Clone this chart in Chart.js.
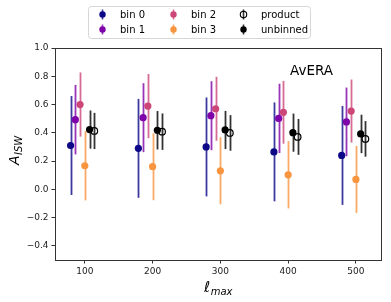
<!DOCTYPE html>
<html>
<head>
<meta charset="utf-8">
<script src="https://cdn.jsdelivr.net/npm/chart.js@4"></script>
<style>
  html, body { margin: 0; padding: 0; background: #fff; }
  #wrap { width: 391px; height: 302px; }
</style>
</head>
<body>
<div id="wrap"><canvas id="isw"></canvas></div>
<script>
// multipole cuts
const lmax = [100, 200, 300, 400, 500];
const yTicks = [-0.4, -0.2, 0.0, 0.2, 0.4, 0.6, 0.8, 1.0];

// A_ISW estimates and 1-sigma errors
const bin0 = [0.31, 0.29, 0.30, 0.265, 0.24];
const err0 = [0.35, 0.35, 0.35, 0.35, 0.35];
const bin1 = [0.493, 0.507, 0.521, 0.502, 0.477];
const err1 = [0.246, 0.244, 0.244, 0.245, 0.243];
const bin2 = [0.60, 0.589, 0.570, 0.545, 0.554];
const err2 = [0.227, 0.227, 0.226, 0.222, 0.223];
const bin3 = [0.167, 0.16, 0.131, 0.103, 0.07];
const err3 = [0.245, 0.237, 0.237, 0.238, 0.237];
const product = [0.413, 0.408, 0.399, 0.371, 0.357];
const errProd = [0.128, 0.129, 0.126, 0.127, 0.126];
const unbinned = [0.423, 0.418, 0.42, 0.401, 0.392];
const errUnb = [0.135, 0.136, 0.135, 0.135, 0.136];

const FONT = "'DejaVu Sans', sans-serif";

function series(label, vals, errs, color, shift, open) {
    return {
        label: label,
        data: lmax.map((l, i) => ({ x: l + shift, y: vals[i], err: errs[i] })),
        backgroundColor: open ? 'rgba(0,0,0,0)' : color,
        borderColor: color,
        borderWidth: open ? 1.2 : 0,
        pointRadius: open ? 3.3 : 3.6,
        pointHoverRadius: 3.6,
        errColor: color,
        open: !!open
    };
}

const datasets = [
    series('bin 0', bin0, err0, '#0d0887', -21),
    series('bin 1', bin1, err1, '#7e03a8', -14),
    series('bin 2', bin2, err2, '#cc4778', -7),
    series('bin 3', bin3, err3, '#f89540', 0),
    series('product', product, errProd, '#000000', 14, true),
    series('unbinned', unbinned, errUnb, '#000000', 7)
];

// error bars, drawn under the markers
const errorBars = {
    id: 'errorBars',
    beforeDatasetsDraw(chart) {
        const { ctx, scales: { x, y } } = chart;
        ctx.save();
        ctx.globalAlpha = 0.8;
        ctx.lineWidth = 1.8;
        chart.data.datasets.forEach(ds => {
            ctx.strokeStyle = ds.errColor;
            ds.data.forEach(p => {
                const px = Math.round(x.getPixelForValue(p.x)) + 0.5;
                ctx.beginPath();
                ctx.moveTo(px, y.getPixelForValue(p.y - p.err));
                ctx.lineTo(px, y.getPixelForValue(p.y + p.err));
                ctx.stroke();
            });
        });
        ctx.restore();
    }
};

// frame, axis titles, annotation and legend
const decor = {
    id: 'decor',
    afterDraw(chart) {
        const { ctx, chartArea: a } = chart;
        ctx.save();
        ctx.strokeStyle = '#333';
        ctx.lineWidth = 1;
        ctx.strokeRect(Math.round(a.left) + 0.5, Math.round(a.top) + 0.5,
            Math.round(a.right - a.left), Math.round(a.bottom - a.top));

        ctx.fillStyle = '#000';
        ctx.textBaseline = 'alphabetic';

        // x title: l_max
        ctx.font = 'italic 15px ' + FONT;
        ctx.textAlign = 'left';
        ctx.fillText('\u2113', 204, 292);
        const lw = ctx.measureText('\u2113').width;
        ctx.font = 'italic 10px ' + FONT;
        ctx.fillText('max', 204 + lw + 0.5, 294.5);

        // y title: A_ISW
        ctx.save();
        ctx.translate(19, 165);
        ctx.rotate(-Math.PI / 2);
        ctx.font = 'italic 14px ' + FONT;
        ctx.fillText('A', 0, 0);
        ctx.font = 'italic 10px ' + FONT;
        ctx.fillText('ISW', 10, 2.5);
        ctx.restore();

        // annotation
        ctx.font = '13.5px ' + FONT;
        ctx.fillText('AvERA', 290, 75);

        // legend
        ctx.beginPath();
        ctx.roundRect(88.5, 6.5, 222, 32, 3);
        ctx.fillStyle = 'rgba(255,255,255,0.8)';
        ctx.fill();
        ctx.strokeStyle = '#d6d6d6';
        ctx.stroke();
        const colX = [102, 173, 243];
        const rowY = [14.5, 29.5];
        ctx.font = '10px ' + FONT;
        ctx.textBaseline = 'middle';
        chart.data.datasets.forEach((ds, i) => {
            const mx = colX[Math.floor(i / 2)] + 0.5;
            const my = rowY[i % 2];
            ctx.strokeStyle = ds.errColor;
            ctx.globalAlpha = 0.8;
            ctx.lineWidth = 1.6;
            ctx.beginPath();
            ctx.moveTo(mx, my - 5);
            ctx.lineTo(mx, my + 5);
            ctx.stroke();
            ctx.globalAlpha = 1;
            ctx.beginPath();
            ctx.arc(mx, my, 3.2, 0, Math.PI * 2);
            if (ds.open) {
                ctx.lineWidth = 1.1;
                ctx.stroke();
            } else {
                ctx.fillStyle = ds.errColor;
                ctx.fill();
            }
            ctx.fillStyle = '#000';
            ctx.fillText(ds.label, mx + 17.5, my + 0.5);
        });
        ctx.restore();
    }
};

new Chart(document.getElementById('isw'), {
    type: 'scatter',
    data: { datasets: datasets },
    options: {
        responsive: true,
        maintainAspectRatio: false,
        animation: false,
        layout: { padding: { top: 48, right: 10, left: 0, bottom: 0 } },
        plugins: { legend: { display: false }, tooltip: { enabled: false } },
        scales: {
            x: {
                type: 'linear',
                min: 56,
                max: 537,
                afterBuildTicks: s => { s.ticks = lmax.map(v => ({ value: v })); },
                afterFit: s => { s.height = 42; },
                grid: { display: true, drawOnChartArea: false, drawTicks: true, tickLength: 3.5, color: '#333' },
                border: { display: true, color: '#333' },
                ticks: { color: '#222', font: { family: FONT, size: 9 }, padding: 3, maxRotation: 0 }
            },
            y: {
                min: -0.5,
                max: 1.0,
                afterBuildTicks: s => { s.ticks = yTicks.map(v => ({ value: v })); },
                afterFit: s => { s.width = 55; },
                grid: { display: true, drawOnChartArea: false, drawTicks: true, tickLength: 3.5, color: '#333' },
                border: { display: true, color: '#333' },
                ticks: {
                    color: '#222',
                    font: { family: FONT, size: 9 },
                    padding: 3,
                    callback: v => v.toFixed(1).replace('-', '\u2212')
                }
            }
        }
    },
    plugins: [errorBars, decor]
});
</script>
</body>
</html>
